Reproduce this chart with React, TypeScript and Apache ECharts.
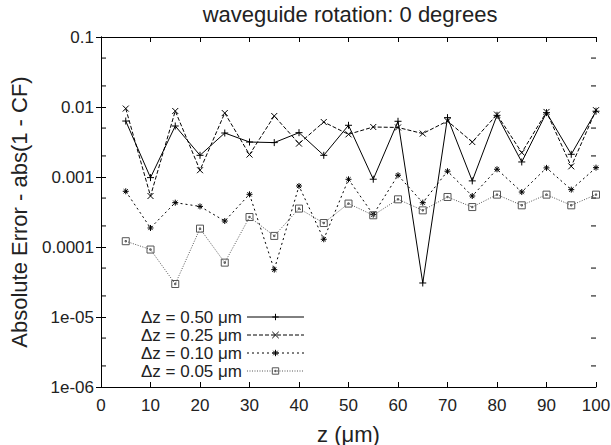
import React, { useEffect, useRef } from "react";
import * as echarts from "echarts";

const zValues = [5, 10, 15, 20, 25, 30, 35, 40, 45, 50, 55, 60, 65, 70, 75, 80, 85, 90, 95, 100];
const seriesNames = ["Δz = 0.50 μm", "Δz = 0.25 μm", "Δz = 0.10 μm", "Δz = 0.05 μm"];
const err050 = [0.0063, 0.00098, 0.00535, 0.00204, 0.00425, 0.00316, 0.0031, 0.0043, 0.00204, 0.00548, 0.00093, 0.00625, 0.0000306, 0.00705, 0.00088, 0.0076, 0.00164, 0.0083, 0.00211, 0.0087];
const err025 = [0.0095, 0.000535, 0.00877, 0.00125, 0.0082, 0.00209, 0.00744, 0.003, 0.0061, 0.00407, 0.00518, 0.0051, 0.00417, 0.0063, 0.00316, 0.0078, 0.00223, 0.0085, 0.00142, 0.009];
const err010 = [0.000625, 0.000187, 0.00043, 0.00038, 0.000235, 0.000566, 0.0000475, 0.000744, 0.000129, 0.000927, 0.00029, 0.00106, 0.00043, 0.00121, 0.000535, 0.00129, 0.00061, 0.00135, 0.00066, 0.00136];
const err005 = [0.000121, 0.000092, 0.0000296, 0.000183, 0.0000598, 0.000268, 0.000144, 0.000354, 0.00022, 0.000417, 0.000284, 0.00048, 0.000334, 0.000518, 0.000372, 0.00056, 0.000394, 0.00056, 0.000394, 0.00056];
const minorTickValues = [0.05, 0.02, 0.005, 0.002, 0.0005, 0.0002, 0.00005, 0.00002, 0.000005, 0.000002];

const FONT = "Liberation Sans";

const symPlus = "path://M5,0 L5,10 M0,5 L10,5";
const symCross = "path://M0,0 L10,10 M10,0 L0,10";
const symStar = "path://M5,0 L5,10 M0,5 L10,5 M1.5,1.5 L8.5,8.5 M8.5,1.5 L1.5,8.5";
const symSquare = "path://M0,0 L10,0 L10,10 L0,10 Z M4,4 L6,4 L6,6 L4,6 Z";

function fmtLog(v: number): string {
  const e = Math.round(Math.log10(v));
  if (e >= -4) return Math.pow(10, e).toFixed(-e);
  const n = -e;
  return "1e-" + (n < 10 ? "0" + n : String(n));
}

export default function App() {
  const ref = useRef<HTMLDivElement>(null);
  useEffect(() => {
    if (!ref.current) return;
    const chart = echarts.init(ref.current, undefined, { renderer: "svg" });
    const mk = (name: string, vals: number[], symbol: string, color: string, type: any, size: number) => ({
      name,
      type: "line",
      data: zValues.map((z, i) => [z, vals[i]]),
      symbol,
      symbolSize: size,
      showSymbol: true,
      lineStyle: { color, width: 1, type },
      itemStyle: { color: "transparent", borderColor: color, borderWidth: 1 },
      emphasis: { disabled: true },
      z: 3,
    });
    const axisLine = { show: true, lineStyle: { color: "#000", width: 1 } };
    const axisTick = { show: true, inside: true, length: 5, lineStyle: { color: "#000" } };
    const labelStyle = { fontFamily: FONT, fontSize: 17, color: "#222" };
    chart.setOption({
      animation: false,
      backgroundColor: "#fff",
      title: {
        text: "waveguide rotation: 0 degrees",
        left: 350,
        textAlign: "center",
        top: 3,
        padding: 0,
        textStyle: { fontFamily: FONT, fontSize: 22, fontWeight: "normal", color: "#222" },
      },
      grid: { left: 101, right: 15, top: 37, bottom: 58, outerBoundsMode: "none", containLabel: false },
      legend: {
        data: seriesNames,
        orient: "vertical",
        left: 136,
        top: 303,
        align: "right",
        itemWidth: 57,
        itemHeight: 8,
        itemGap: 0,
        itemStyle: { borderWidth: 1 },
        lineStyle: { width: 1 },
        textStyle: { fontFamily: FONT, fontSize: 17, color: "#222", lineHeight: 18 },
        selectedMode: false,
      },
      xAxis: [
        {
          type: "value",
          min: 0,
          max: 100,
          interval: 10,
          name: "z (μm)",
          nameLocation: "middle",
          nameGap: 36,
          nameTextStyle: { fontFamily: FONT, fontSize: 22, color: "#222" },
          axisLine,
          axisTick,
          splitLine: { show: false },
          axisLabel: { ...labelStyle, margin: 10 },
        },
        {
          type: "value",
          position: "top",
          min: 0,
          max: 100,
          interval: 10,
          axisLine,
          axisTick,
          splitLine: { show: false },
          axisLabel: { show: false },
        },
      ],
      yAxis: [
        {
          type: "log",
          logBase: 10,
          min: 1e-6,
          max: 0.1,
          name: "Absolute Error - abs(1 - CF)",
          nameLocation: "middle",
          nameGap: 71,
          nameTextStyle: { fontFamily: FONT, fontSize: 22, color: "#222" },
          axisLine,
          axisTick,
          splitLine: { show: false },
          minorTick: { show: false },
          axisLabel: { ...labelStyle, margin: 7, formatter: (v: number) => fmtLog(v) },
        },
        {
          type: "log",
          logBase: 10,
          min: 1e-6,
          max: 0.1,
          position: "right",
          axisLine,
          axisTick,
          splitLine: { show: false },
          axisLabel: { show: false },
        },
      ],
      series: [
        mk(seriesNames[0], err050, symPlus, "#000", "solid", 7),
        mk(seriesNames[1], err025, symCross, "#000", [4, 2], 6),
        mk(seriesNames[2], err010, symStar, "#000", [2, 3], 6),
        mk(seriesNames[3], err005, symSquare, "#555", [1, 1.5], 7),
        {
          type: "custom",
          name: "minorTicks",
          silent: true,
          data: minorTickValues.map((v) => [0, v]),
          renderItem: (params: any, api: any) => {
            const v = api.value(1);
            const a = api.coord([0, v]);
            const b = api.coord([100, v]);
            return {
              type: "group",
              children: [
                { type: "line", shape: { x1: a[0], y1: a[1], x2: a[0] + 5, y2: a[1] }, style: { stroke: "#000", lineWidth: 1 } },
                { type: "line", shape: { x1: b[0], y1: b[1], x2: b[0] - 5, y2: b[1] }, style: { stroke: "#000", lineWidth: 1 } },
              ],
            };
          },
          z: 2,
        },
      ],
    });
    return () => chart.dispose();
  }, []);
  return <div ref={ref} style={{ width: 611, height: 445, position: "absolute", left: 0, top: 0 }} />;
}
